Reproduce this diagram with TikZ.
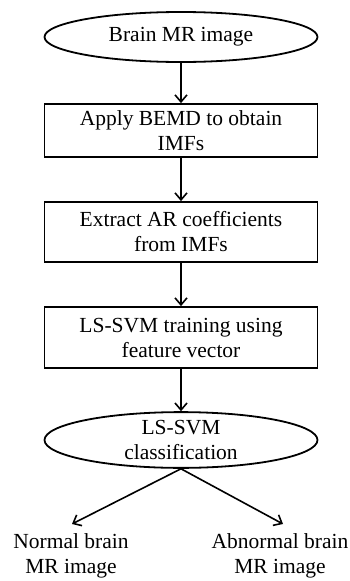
\documentclass[tikz,border=0pt]{standalone}
\usepackage{fontspec}
\setmainfont{Liberation Serif}
\usetikzlibrary{shapes.geometric,arrows.meta}
\begin{document}
\begin{tikzpicture}[x=1pt,y=-1pt,
  every node/.style={font=\fontsize{21.5}{25}\selectfont, align=center, inner sep=0pt},
  oval/.style={draw, line width=1.8pt, ellipse, minimum width=273pt, minimum height=50pt},
  procbox/.style={draw, line width=1.8pt, rectangle, minimum width=273pt},
  arr/.style={line width=1.6pt, -{Straight Barb[length=7pt,width=12pt,line width=1.6pt]}}
]
\useasboundingbox (0,0) rectangle (350,581);
\node[oval] (start) at (181,37) {Brain MR image};
\node[procbox, minimum height=53pt] (bemd) at (181,130.5) {Apply BEMD to obtain\\IMFs};
\node[procbox, minimum height=60pt] (ar) at (181,232) {Extract AR coefficients\\from IMFs};
\node[procbox, minimum height=61pt] (train) at (181,337.5) {LS-SVM training using\\feature vector};
\node[oval] (cls) at (181,440) {LS-SVM\\classification};
\coordinate (lt) at (72,524);
\coordinate (rt) at (283,524);
\node (normal) at (71,556) {Normal brain\\MR image};
\node (abn) at (280,556) {Abnormal brain\\MR image};
\draw[arr] (start) -- (bemd);
\draw[arr] (bemd) -- (ar);
\draw[arr] (ar) -- (train);
\draw[arr] (train) -- (cls);
\draw[arr] (cls.south) -- (lt);
\draw[arr] (cls.south) -- (rt);
\end{tikzpicture}
\end{document}
